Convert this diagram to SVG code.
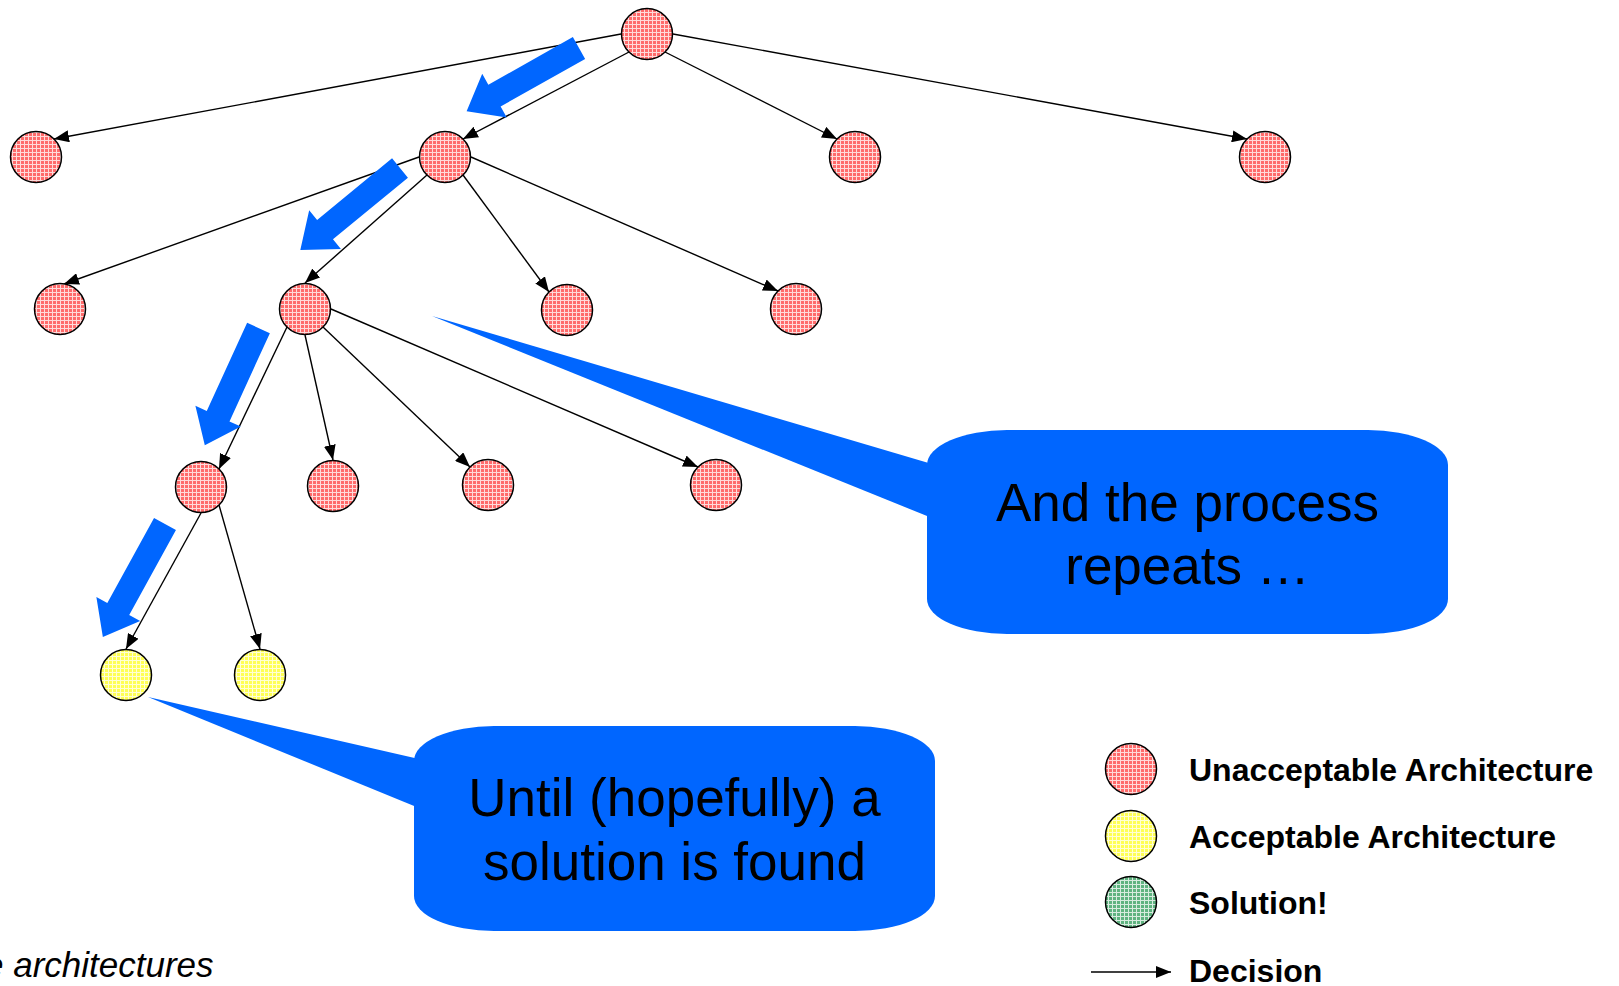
<svg xmlns="http://www.w3.org/2000/svg" width="1619" height="986" viewBox="0 0 1619 986">
<style>
.n{stroke:#000;stroke-width:1.5}
.red{fill:url(#pr)}
.yel{fill:url(#py)}
.grn{fill:url(#pg)}
.e{stroke:#000;stroke-width:1.4;fill:none;marker-end:url(#ah)}
.blk{fill:#0066ff}
.ct{font-family:"Liberation Sans",Arial,sans-serif;font-size:53px;fill:#000;text-anchor:middle}
.lg{font-family:"Liberation Sans",Arial,sans-serif;font-size:32px;font-weight:bold;fill:#000}
.it{font-family:"Liberation Sans",Arial,sans-serif;font-size:35px;font-style:italic;fill:#000}
</style>
<defs>
<pattern id="pr" width="4" height="4" patternUnits="userSpaceOnUse"><rect width="4" height="4" fill="#ff6b6b"/><path d="M0 0.5H4M0.5 0V4" stroke="#fff" stroke-width="1" opacity="0.75"/></pattern>
<pattern id="py" width="4" height="4" patternUnits="userSpaceOnUse"><rect width="4" height="4" fill="#ffff55"/><path d="M0 0.5H4M0.5 0V4" stroke="#fff" stroke-width="1" opacity="0.75"/></pattern>
<pattern id="pg" width="4" height="4" patternUnits="userSpaceOnUse"><rect width="4" height="4" fill="#5fb380"/><path d="M0 0.5H4M0.5 0V4" stroke="#fff" stroke-width="1" opacity="0.75"/></pattern>
<marker id="ah" markerUnits="userSpaceOnUse" markerWidth="16" markerHeight="12" refX="15" refY="6" orient="auto"><path d="M0,0 L15,6 L0,12 Z" fill="#000"/></marker>
<path id="barrow" d="M0,-12.5 H97 V-25 L129,0 L97,25 V12.5 H0 Z"/>
</defs>

<g id="connectors">
<line class="e" x1="621" y1="34" x2="54" y2="139"/>
<line class="e" x1="629" y1="52" x2="463" y2="139"/>
<line class="e" x1="665" y1="52" x2="837" y2="139"/>
<line class="e" x1="673" y1="34" x2="1247" y2="139"/>
<line class="e" x1="419" y1="157" x2="64" y2="284"/>
<line class="e" x1="427" y1="175" x2="305" y2="283"/>
<line class="e" x1="463" y1="175" x2="549" y2="292"/>
<line class="e" x1="471" y1="157" x2="778" y2="291"/>
<line class="e" x1="287" y1="327" x2="219" y2="469"/>
<line class="e" x1="305" y1="335" x2="333" y2="460"/>
<line class="e" x1="323" y1="327" x2="470" y2="467"/>
<line class="e" x1="331" y1="309" x2="698" y2="467"/>
<line class="e" x1="201" y1="513" x2="126" y2="649"/>
<line class="e" x1="219" y1="505" x2="260" y2="649"/>
</g>

<g id="nodes">
<g id="n-root"><circle class="n red" cx="647" cy="34" r="25.5"/></g>
<g id="n-a1"><circle class="n red" cx="36" cy="157" r="25.5"/></g>
<g id="n-a2"><circle class="n red" cx="445" cy="157" r="25.5"/></g>
<g id="n-a3"><circle class="n red" cx="855" cy="157" r="25.5"/></g>
<g id="n-a4"><circle class="n red" cx="1265" cy="157" r="25.5"/></g>
<g id="n-b1"><circle class="n red" cx="60" cy="309" r="25.5"/></g>
<g id="n-b2"><circle class="n red" cx="305" cy="309" r="25.5"/></g>
<g id="n-b3"><circle class="n red" cx="567" cy="310" r="25.5"/></g>
<g id="n-b4"><circle class="n red" cx="796" cy="309" r="25.5"/></g>
<g id="n-c1"><circle class="n red" cx="201" cy="487" r="25.5"/></g>
<g id="n-c2"><circle class="n red" cx="333" cy="486" r="25.5"/></g>
<g id="n-c3"><circle class="n red" cx="488" cy="485" r="25.5"/></g>
<g id="n-c4"><circle class="n red" cx="716" cy="485" r="25.5"/></g>
<g id="n-d1"><circle class="n yel" cx="126" cy="675" r="25.5"/></g>
<g id="n-d2"><circle class="n yel" cx="260" cy="675" r="25.5"/></g>
</g>

<g id="block-arrows">
<use href="#barrow" class="blk" transform="translate(579,48) rotate(150.6)"/>
<use href="#barrow" class="blk" transform="translate(400,168) rotate(140.6)"/>
<use href="#barrow" class="blk" transform="translate(258.5,328) rotate(114.6)"/>
<use href="#barrow" class="blk" transform="translate(165,524) rotate(118.8)"/>
</g>

<g id="callout-repeats">
<polygon class="blk" points="432,316 932,464 932,518"/>
<rect class="blk" x="927" y="430" width="521" height="204" rx="80" ry="35"/>
<text class="ct" x="1187.5" y="521">And the process</text>
<text class="ct" x="1187.5" y="584">repeats …</text>
</g>

<g id="callout-solution">
<polygon class="blk" points="148,697 419,759 419,808"/>
<rect class="blk" x="414" y="726" width="521" height="205" rx="80" ry="35"/>
<text class="ct" x="674.5" y="816">Until (hopefully) a</text>
<text class="ct" x="674.5" y="880">solution is found</text>
</g>

<g id="legend">
<circle class="n red" cx="1131" cy="769" r="25.5"/>
<text class="lg" x="1189" y="781">Unacceptable Architecture</text>
<circle class="n yel" cx="1131" cy="836" r="25.5"/>
<text class="lg" x="1189" y="848">Acceptable Architecture</text>
<circle class="n grn" cx="1131" cy="902" r="25.5"/>
<text class="lg" x="1189" y="914">Solution!</text>
<line class="e" x1="1091" y1="972" x2="1171" y2="972"/>
<text class="lg" x="1189" y="982">Decision</text>
</g>

<text class="it" x="-16" y="977">e architectures</text>
</svg>
